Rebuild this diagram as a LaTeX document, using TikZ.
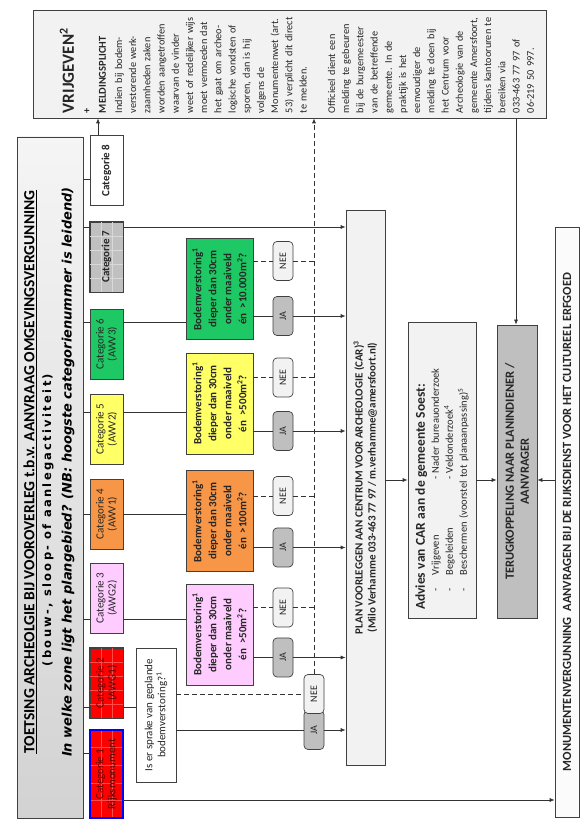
\documentclass[tikz,border=0pt]{standalone}
\usepackage{fontspec}
\setmainfont{Carlito}
\newfontfamily\verdfont{DejaVu Sans}
\usetikzlibrary{arrows.meta,calc}
\definecolor{catred}{RGB}{255,0,0}
\definecolor{catpink}{RGB}{255,204,255}
\definecolor{catorange}{RGB}{247,150,70}
\definecolor{catyellow}{RGB}{255,255,102}
\definecolor{catgreen}{RGB}{30,200,100}
\definecolor{catgray}{RGB}{192,192,192}
\definecolor{boxgray}{RGB}{242,242,242}
\definecolor{jagray}{RGB}{191,191,191}
\definecolor{edgegray}{RGB}{64,64,64}
\tikzset{
  rbox/.style={rotate=90,draw=edgegray,line width=0.7pt,inner sep=2pt,align=center,text=black!85},
  catbox/.style={rbox,minimum width=70pt,minimum height=33pt,font=\fontsize{11}{12}\selectfont},
  bodem/.style={rbox,fill=#1,minimum width=101pt,minimum height=67pt,font=\bfseries\fontsize{11}{15}\selectfont},
  jabox/.style={rbox,fill=jagray,rounded corners=4pt,minimum width=39pt,minimum height=20pt,font=\fontsize{10}{11}\selectfont},
  neebox/.style={jabox,fill=boxgray},
  ln/.style={draw=black!80,line width=0.7pt},
  arr/.style={ln,-{Latex[length=5pt,width=4pt]}},
  dsh/.style={ln,dash pattern=on 5pt off 3pt}
}
\newcommand{\catgrid}[2]{%
  \foreach \f in {0.2,0.4,0.6,0.8}
    \draw[#2,line width=0.3pt] ($(#1.north west)!\f!(#1.north east)$) -- ($(#1.south west)!\f!(#1.south east)$);
  \foreach \f in {0.35,0.68}
    \draw[#2,line width=0.3pt] ($(#1.north west)!\f!(#1.south west)$) -- ($(#1.north east)!\f!(#1.south east)$);
}

\begin{document}
\begin{tikzpicture}[x=1pt,y=1pt]
\useasboundingbox (0,0) rectangle (588,825);

\node[rbox,minimum width=681pt,minimum height=66pt,top color=gray!8,bottom color=gray!35] (title) at (50,347.5) {};
\node[rotate=90,font=\bfseries\fontsize{15.5}{17}\selectfont] (t1) at (30,353) {\underline{TOETSING ARCHEOLGIE BIJ VOOROVERLEG t.b.v. AANVRAAG OMGEVINGSVERGUNNING}};
\node[rotate=90,font=\verdfont\bfseries\fontsize{11.5}{13}\selectfont\addfontfeatures{LetterSpace=20}] (t2) at (48,305) {(bouw-, sloop- of aanlegactiviteit)};
\node[rotate=90,font=\verdfont\bfseries\itshape\fontsize{13}{15}\selectfont] (t3) at (68,353) {In welke zone ligt het plangebied? (NB: hoogste categorienummer is leidend)};

\node[catbox,fill=catred,minimum width=88pt] (c1) at (106.5,51) {};
\node[catbox,fill=catred] (c2) at (106.5,142) {};
\node[catbox,fill=catgray] (c7) at (106.5,568) {};
\catgrid{c1}{red!70!white}
\catgrid{c2}{red!70!white}
\catgrid{c7}{gray!30}
\draw[blue,line width=1.8pt] (c1.north west) rectangle (c1.south east);
\draw[edgegray,line width=0.7pt] (c2.north west) rectangle (c2.south east);
\draw[edgegray,line width=0.7pt] (c7.north west) rectangle (c7.south east);
\node[rotate=90,align=center,text=red!35!black,font=\fontsize{11}{12}\selectfont] at (c1) {Categorie 1\\Rijksmonument};
\node[rotate=90,align=center,text=red!35!black,font=\fontsize{11}{12}\selectfont] at (c2) {Categorie 2\\(AWG1)};
\node[rotate=90,text=black!85,font=\bfseries\fontsize{11}{12}\selectfont] at (c7) {Categorie 7};
\node[catbox,fill=catpink] (c3) at (106.5,227) {Categorie 3\\(AWG2)};
\node[catbox,fill=catorange] (c4) at (106.5,311) {Categorie 4\\(AWV1)};
\node[catbox,fill=catyellow] (c5) at (106.5,396) {Categorie 5\\(AWV2)};
\node[catbox,fill=catgreen] (c6) at (106.5,481) {Categorie 6\\(AWV3)};
\node[catbox,fill=white,font=\bfseries\fontsize{11}{12}\selectfont] (c8) at (106.5,654.5) {Categorie 8};

\node[rbox,fill=white,minimum width=134pt,minimum height=40pt,font=\fontsize{11}{13}\selectfont] (iser) at (156,110) {Is er sprake van geplande\\bodemverstoring?\textsuperscript{1}};

\node[bodem=catpink] (bv3) at (219.5,190.5) {Bodemverstoring\textsuperscript{1}\\dieper dan 30cm\\onder maaiveld\\én \ >50m\textsuperscript{2}?};
\node[bodem=catorange] (bv4) at (219.5,304) {Bodemverstoring\textsuperscript{1}\\dieper dan 30cm\\onder maaiveld\\én \ >100m\textsuperscript{2}?};
\node[bodem=catyellow] (bv5) at (219.5,421.5) {Bodemverstoring\textsuperscript{1}\\dieper dan 30cm\\onder maaiveld\\én \ >500m\textsuperscript{2}?};
\node[bodem=catgreen] (bv6) at (219.5,536) {Bodemverstoring\textsuperscript{1}\\dieper dan 30cm\\onder maaiveld\\én \ >10.000m\textsuperscript{2}?};

\node[jabox] (ja2) at (314,95) {JA};
\node[neebox] (nee2) at (314,131) {NEE};
\node[jabox] (ja3) at (283,167.5) {JA};
\node[neebox] (nee3) at (283,217.5) {NEE};
\node[jabox] (ja4) at (283,277.5) {JA};
\node[neebox] (nee4) at (283,329) {NEE};
\node[jabox] (ja5) at (283,394) {JA};
\node[neebox] (nee5) at (283,447.5) {NEE};
\node[jabox] (ja6) at (283,509) {JA};
\node[neebox] (nee6) at (283,564) {NEE};

\node[rbox,fill=boxgray,minimum width=555pt,minimum height=39pt,font=\bfseries\fontsize{11}{13}\selectfont] (car) at (365.5,337.5) {PLAN VOORLEGGEN AAN CENTRUM VOOR ARCHEOLOGIE (CAR)\textsuperscript{3}\\(Milo Verhamme 033-463 77 97 / m.verhamme@amersfoort.nl)};

\node[rbox,fill=boxgray,minimum width=296pt,minimum height=68pt,text width=280pt,inner xsep=8pt,align=left,font=\fontsize{10.5}{14}\selectfont] (advies) at (442,355) {{\bfseries\fontsize{13.5}{15}\selectfont Advies van CAR aan de gemeente Soest:}\\
\hspace*{18pt}\makebox[17pt][l]{-}\makebox[95pt][l]{Vrijgeven}- Nader bureauonderzoek\\
\hspace*{18pt}\makebox[17pt][l]{-}\makebox[95pt][l]{Begeleiden}- Veldonderzoek\textsuperscript{4}\\
\hspace*{18pt}\makebox[17pt][l]{-}Beschermen (voorstel tot planaanpassing)\textsuperscript{5}};

\node[rbox,fill=jagray,minimum width=293pt,minimum height=40pt,font=\bfseries\fontsize{12.5}{15}\selectfont] (terug) at (517,353.5) {TERUGKOPPELING NAAR PLANINDIENER /\\AANVRAGER};

\node[rbox,fill=gray!3,minimum width=590pt,minimum height=24pt,font=\bfseries\fontsize{12.5}{14}\selectfont] (monu) at (567,303) {MONUMENTENVERGUNNING\ \ AANVRAGEN BIJ DE RIJKSDIENST VOOR HET CULTUREEL ERFGOED};

\node[rbox,fill=boxgray,minimum width=108pt,minimum height=513pt] (vrij) at (289.5,761) {};
\node[rotate=90,anchor=north west,text width=100pt,inner xsep=5pt,inner ysep=27pt,align=left,text=black!85,font=\fontsize{10.3}{14.2}\selectfont] (vrijtxt) at (vrij.north west) {{\bfseries\fontsize{17}{17}\selectfont VRIJGEVEN\textsuperscript{2}}\\[2pt]
{\bfseries +}\\[1.5pt]
{\bfseries\fontsize{10.5}{14.2}\selectfont MELDINGSPLICHT}\\[2pt]
Indien bij bodem-\\
verstorende werk-\\
zaamheden zaken\\
worden aangetroffen\\
waarvan de vinder\\
weet of redelijker wijs\\
moet vermoeden dat\\
het gaat om archeo-\\
logische vondsten of\\
sporen, dan is hij\\
volgens de\\
Monumentenwet (art.\\
53) verplicht dit direct\\
te melden.\\[14.2pt]
Officieel dient een\\
melding te gebeuren\\
bij de burgemeester\\
van de betreffende\\
gemeente. In de\\
praktijk is het\\
eenvoudiger de\\
melding te doen bij\\
het Centrum voor\\
Archeologie van de\\
gemeente Amersfoort,\\
tijdens kantooruren te\\
bereiken via\\
033-463 77 97 of\\
06-219 50 997.};

\coordinate (bus) at (vrij.west -| 314,0);

\draw[ln] (title.south |- 0,72) -- (c1.north |- 0,72);
\draw[ln] (title.south |- 0,118) -- (c2.north |- 0,118);
\draw[ln] (title.south |- 0,206) -- (c3.north |- 0,206);
\draw[ln] (title.south |- c4) -- (c4.north);
\draw[ln] (title.south |- 0,413) -- (c5.north |- 0,413);
\draw[ln] (title.south |- 0,503) -- (c6.north |- 0,503);
\draw[ln] (title.south |- 0,598) -- (c7.north |- 0,598);
\draw[ln] (title.south |- 0,646) -- (c8.north |- 0,646);

\draw[arr] (c1.south |- 0,25) -- (monu.north |- 0,25);
\draw[ln] (c2.south |- 0,118) -- (iser.north |- 0,118);
\draw[ln] (c3.south |- 0,206) -- (bv3.north |- 0,206);
\draw[ln] (c4.south) -- (bv4.north |- c4.south);
\draw[ln] (c5.south |- 0,413) -- (bv5.north |- 0,413);
\draw[ln] (c6.south |- 0,503) -- (bv6.north |- 0,503);
\draw[arr] (c7.south |- 0,598) -- (car.north |- 0,598);
\draw[arr] (c8.east -| 98,0) -- (vrij.west -| 98,0);

\draw[ln] (iser.south |- ja2) -- (ja2.north);
\draw[arr] (ja2.south) -- (car.north |- ja2);
\draw[dsh] (iser.south |- nee2) -- (nee2.north);
\draw[dsh,-{Latex[length=5pt,width=4pt]}] (nee2.east) -- (bus);

\draw[ln] (bv3.south |- ja3) -- (ja3.north);
\draw[arr] (ja3.south) -- (car.north |- ja3);
\draw[dsh] (bv3.south |- nee3) -- (nee3.north);
\draw[dsh] (nee3.south) -- (bus |- nee3);
\draw[ln] (bv4.south |- ja4) -- (ja4.north);
\draw[arr] (ja4.south) -- (car.north |- ja4);
\draw[dsh] (bv4.south |- nee4) -- (nee4.north);
\draw[dsh] (nee4.south) -- (bus |- nee4);
\draw[ln] (bv5.south |- ja5) -- (ja5.north);
\draw[arr] (ja5.south) -- (car.north |- ja5);
\draw[dsh] (bv5.south |- nee5) -- (nee5.north);
\draw[dsh] (nee5.south) -- (bus |- nee5);
\draw[ln] (bv6.south |- ja6) -- (ja6.north);
\draw[arr] (ja6.south) -- (car.north |- ja6);
\draw[dsh] (bv6.south |- nee6) -- (nee6.north);
\draw[dsh] (nee6.south) -- (bus |- nee6);

\draw[arr] (car.south |- 0,345) -- (advies.north |- 0,345);
\draw[arr] (advies.south |- 0,345) -- (terug.north |- 0,345);
\draw[arr] (monu.north |- 0,345) -- (terug.south |- 0,345);
\draw[arr] (vrij.west -| 516,0) -- (terug.east -| 516,0);
\end{tikzpicture}
\end{document}
